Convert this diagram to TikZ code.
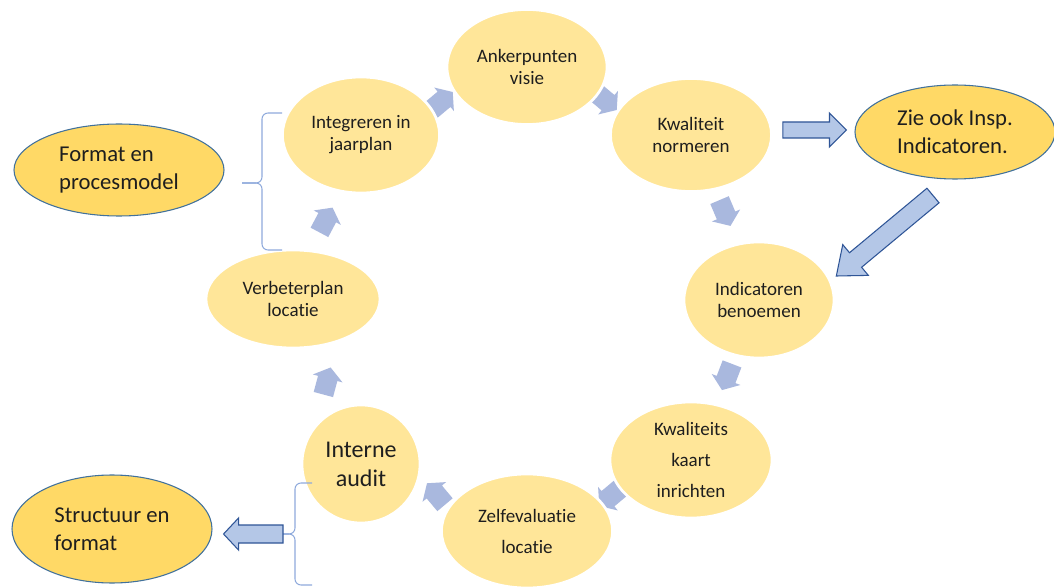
\documentclass[tikz,border=0pt]{standalone}
\usepackage{fontspec}
\setmainfont{Carlito}[Ligatures={NoCommon,NoContextual,NoDiscretionary,NoRequired}]
\usetikzlibrary{shapes.geometric,calc}
\definecolor{cycfill}{HTML}{FFE699}
\definecolor{outfill}{HTML}{FFD966}
\definecolor{outline}{HTML}{41719C}
\definecolor{arrfill}{HTML}{B4C7E7}
\definecolor{arrline}{HTML}{2F5597}
\definecolor{smallfill}{HTML}{A9B8DE}
\definecolor{bracecol}{HTML}{8FAADC}
\definecolor{txt}{HTML}{1E1E1E}
% #1 style, #2 tail, #3 tip, #4 shaft half width, #5 head half width, #6 head length
\newcommand\blockarrow[6]{%
  \coordinate (ba-hb) at ($(#3)!#6!(#2)$);
  \path[#1] ($(#2)!#4!90:(#3)$) -- ($(ba-hb)!#4!90:(#3)$) -- ($(ba-hb)!#5!90:(#3)$) -- (#3)
    -- ($(ba-hb)!#5!-90:(#3)$) -- ($(ba-hb)!#4!-90:(#3)$) -- ($(#2)!#4!-90:(#3)$) -- cycle;}
% small cycle arrow: centre x, centre y, screen angle (clockwise)
\newcommand\cyclearrow[3]{%
  \coordinate (ca-t) at ($(#1,#2)+({#3+180}:14)$);
  \coordinate (ca-h) at ($(#1,#2)+(#3:14)$);
  \blockarrow{smallarr}{ca-t}{ca-h}{7.5pt}{11.5pt}{8.5pt}}
\begin{document}
\begin{tikzpicture}[x=0.75pt,y=-0.75pt,
  smallarr/.style={fill=smallfill},
  bigarr/.style={fill=arrfill,draw=arrline,line width=0.8pt,line join=miter},
  cyc/.style={ellipse,fill=cycfill,draw=white,line width=2pt,inner sep=0pt,text=txt,
    font=\fontsize{14.25}{16.5}\selectfont,align=center},
  outl/.style={ellipse,fill=outfill,draw=outline,line width=0.8pt,inner sep=0pt,text=txt,
    font=\fontsize{17}{21}\selectfont,align=left},
  bracest/.style={draw=bracecol,line width=0.8pt,rounded corners=4.5pt}]
\useasboundingbox (0,0) rectangle (1054,588);
\fill[white] (0,0) rectangle (1054,588);

% small cycle arrows (behind the ellipses)
\cyclearrow{442}{101}{-40}
\cyclearrow{606}{101}{40}
\cyclearrow{725}{213}{67}
\cyclearrow{727}{377}{111}
\cyclearrow{610}{497}{140}
\cyclearrow{436}{494}{-130}
\cyclearrow{327}{381}{-75}
\cyclearrow{326}{220}{-62}

% cycle ellipses
\node[cyc,minimum width=120pt,minimum height=86.25pt] (ank) at (527,67) {Ankerpunten\\visie};
\node[cyc,minimum width=120.75pt,minimum height=84.75pt] (kn) at (691,135) {Kwaliteit\\normeren};
\node[cyc,minimum width=112.5pt,minimum height=87pt] (ind) at (759,300) {Indicatoren\\benoemen};
\node[cyc,minimum width=121.5pt,minimum height=87pt,font=\fontsize{14.25}{23.25}\selectfont] (kk) at (691,460) {Kwaliteits\\kaart\\inrichten};
\node[cyc,minimum width=128.25pt,minimum height=85.5pt,font=\fontsize{14.25}{23.25}\selectfont] (zelf) at (527,531) {Zelfevaluatie\\locatie};
\node[cyc,minimum width=88.5pt,minimum height=88.5pt,font=\fontsize{18}{21.75}\selectfont] (ia) at (361,464) {Interne\\audit};
\node[cyc,minimum width=130.5pt,minimum height=73.5pt] (vb) at (293,299) {Verbeterplan\\locatie};
\node[cyc,minimum width=117.75pt,minimum height=87pt] (int) at (361,135) {Integreren in\\jaarplan};

% outlined ellipses
\node[outl,minimum width=157.5pt,minimum height=69pt] (fmt) at (119,170) {Format en\\procesmodel};
\node[outl,minimum width=150pt,minimum height=70.5pt] (zie) at (955,132) {Zie ook Insp.\\Indicatoren.};
\node[outl,minimum width=150pt,minimum height=81pt] (str) at (112,529) {Structuur en\\format};

% braces
\coordinate (ub-top) at (282,113);
\coordinate (ub-tip) at (242,183);
\coordinate (ub-bot) at (282,250);
\draw[bracest] (ub-top) -- (262,113) -- (262,183) -- (ub-tip);
\draw[bracest] (ub-tip) -- (262,183) -- (262,250) -- (ub-bot);
\coordinate (lb-top) at (312,483);
\coordinate (lb-tip) at (283,534);
\coordinate (lb-bot) at (312,585);
\draw[bracest] (lb-top) -- (295,483) -- (295,534) -- (lb-tip);
\draw[bracest] (lb-tip) -- (295,534) -- (295,585) -- (lb-bot);

% big block arrows
\coordinate (r-t) at ($(kn.east)+(10,-5)$);
\coordinate (r-h) at ($(zie.west)+(-8,-2)$);
\blockarrow{bigarr}{r-t}{r-h}{6pt}{12.75pt}{12.75pt}
\coordinate (d-t) at ($(zie.south)+(-22,16)$);
\coordinate (d-h) at ($(ind.east)+(1,-24)$);
\blockarrow{bigarr}{d-t}{d-h}{7.1pt}{15pt}{18.75pt}
\coordinate (l-h) at ($(str.east)+(11,5)$);
\blockarrow{bigarr}{lb-tip}{l-h}{6.75pt}{12pt}{11.25pt}
\end{tikzpicture}
\end{document}
